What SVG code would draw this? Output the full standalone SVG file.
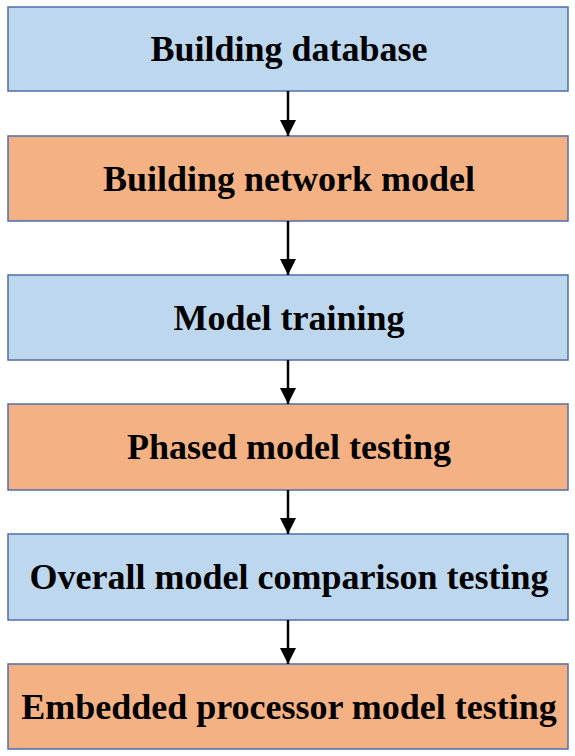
<svg xmlns="http://www.w3.org/2000/svg" width="575" height="756" viewBox="0 0 575 756">
<style>
.box rect{stroke:#4F6FA8;stroke-width:1.5}
.blue rect{fill:#BDD7EE}
.orange rect{fill:#F4B183}
.box text{font-family:"Liberation Serif","Times New Roman",serif;font-weight:bold;font-size:36px;fill:#000;text-anchor:middle}
.conn line{stroke:#000;stroke-width:2.5}
</style>
<defs>
<marker id="ah" viewBox="0 0 10 10" refX="10" refY="5" markerWidth="6.4" markerHeight="6.4" markerUnits="strokeWidth" orient="auto">
<path d="M0,0 L10,5 L0,10 Z" fill="#000"/>
</marker>
</defs>
<rect width="575" height="756" fill="#fff"/>
<g id="n1" class="box blue"><rect x="8" y="7" width="560" height="84"/><text x="289" y="61">Building database</text></g>
<g id="n2" class="box orange"><rect x="8" y="136" width="560" height="85"/><text x="289" y="190.5">Building network model</text></g>
<g id="n3" class="box blue"><rect x="8" y="275" width="560" height="85"/><text x="289" y="329.5">Model training</text></g>
<g id="n4" class="box orange"><rect x="8" y="404" width="560" height="86"/><text x="289" y="459">Phased model testing</text></g>
<g id="n5" class="box blue"><rect x="8" y="534" width="560" height="86"/><text x="289" y="589">Overall model comparison testing</text></g>
<g id="n6" class="box orange"><rect x="8" y="664" width="560" height="85"/><text x="289" y="718.5">Embedded processor model testing</text></g>
<g id="connectors" class="conn">
<line x1="288" y1="91" x2="288" y2="136" marker-end="url(#ah)"/>
<line x1="288" y1="221" x2="288" y2="275" marker-end="url(#ah)"/>
<line x1="288" y1="360" x2="288" y2="404" marker-end="url(#ah)"/>
<line x1="288" y1="490" x2="288" y2="534" marker-end="url(#ah)"/>
<line x1="288" y1="620" x2="288" y2="664" marker-end="url(#ah)"/>
</g>
</svg>
